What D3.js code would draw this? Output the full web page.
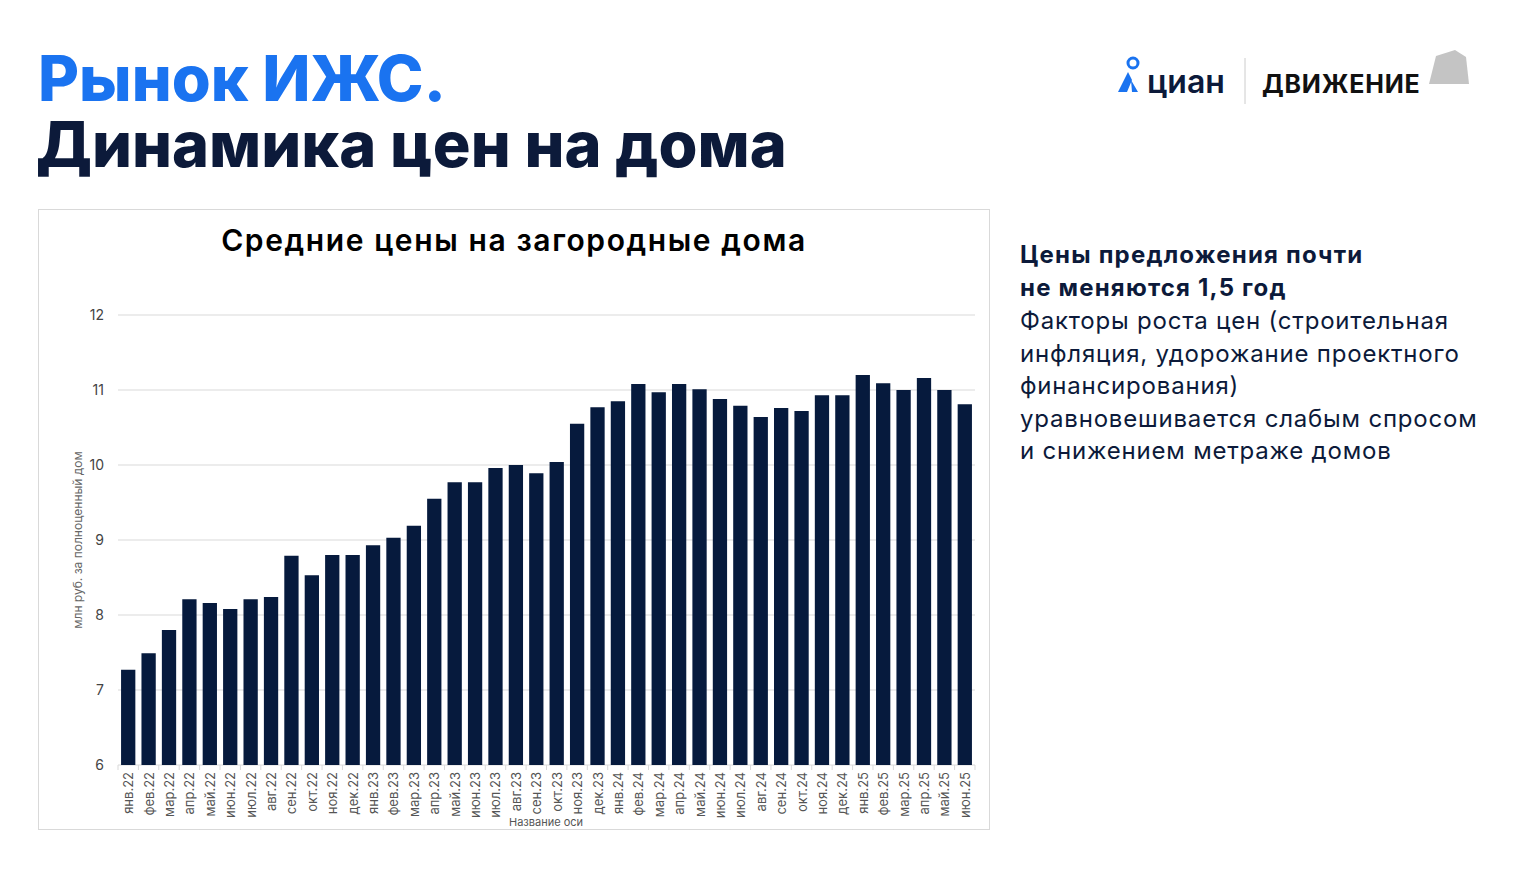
<!DOCTYPE html>
<html><head><meta charset="utf-8">
<script src="https://cdn.jsdelivr.net/npm/d3@7"></script>
<style>body{margin:0;background:#fff;font-family:Inter,"Noto Sans",sans-serif}</style>
</head><body><svg id="c" width="1520" height="890"></svg>
<script>
const months = ["янв.22","фев.22","мар.22","апр.22","май.22","июн.22","июл.22","авг.22","сен.22","окт.22","ноя.22","дек.22",
"янв.23","фев.23","мар.23","апр.23","май.23","июн.23","июл.23","авг.23","сен.23","окт.23","ноя.23","дек.23",
"янв.24","фев.24","мар.24","апр.24","май.24","июн.24","июл.24","авг.24","сен.24","окт.24","ноя.24","дек.24",
"янв.25","фев.25","мар.25","апр.25","май.25","июн.25"];
const prices = [7.27,7.49,7.8,8.21,8.16,8.08,8.21,8.24,8.79,8.53,8.8,8.8,
8.93,9.03,9.19,9.55,9.77,9.77,9.96,10.0,9.89,10.04,10.55,10.77,
10.85,11.08,10.97,11.08,11.01,10.88,10.79,10.64,10.76,10.72,10.93,10.93,
11.2,11.09,11.0,11.16,11.0,10.81];
const yTicks = [6,7,8,9,10,11,12];

const svg = d3.select("#c");
svg.append("text").attr("x",38).attr("y",101).attr("fill","#1a73f0").attr("font-size",63).attr("font-weight",800).text("Рынок ИЖС.");
svg.append("text").attr("x",36).attr("y",167).attr("fill","#0c1a3a").attr("font-size",63).attr("font-weight",800).text("Динамика цен на дома");

// logo
const lg = svg.append("g");
lg.append("path").attr("d","M1118,92 L1128,72 L1132,80 L1127,92 Z M1131,80 L1138,92 L1132,92 Z").attr("fill","#1a73f0");
lg.append("circle").attr("cx",1133).attr("cy",63).attr("r",5).attr("fill","none").attr("stroke","#1a73f0").attr("stroke-width",3);
lg.append("text").attr("x",1147).attr("y",93).attr("fill","#0c1a3a").attr("font-size",32).attr("font-weight",600).text("циан");
lg.append("line").attr("x1",1245).attr("x2",1245).attr("y1",58).attr("y2",104).attr("stroke","#ccc");
lg.append("text").attr("x",1262).attr("y",93).attr("fill","#111").attr("font-size",25).attr("font-weight",700).attr("letter-spacing",0.8).text("ДВИЖЕНИЕ");
lg.append("path").attr("d","M1436,56 L1455,50 L1466,57 L1469,84 L1429,84 Z").attr("fill","#c4c4c4");

// chart frame
svg.append("rect").attr("x",38.5).attr("y",209.5).attr("width",951).attr("height",620).attr("fill","#fff").attr("stroke","#d9d9d9");
svg.append("text").attr("x",514).attr("y",251).attr("text-anchor","middle").attr("font-size",30).attr("font-weight",600).attr("letter-spacing",1.6).attr("fill","#000").text("Средние цены на загородные дома");

const x = d3.scaleBand().domain(months).range([118,975]).paddingInner(0.3).paddingOuter(0.15);
const y = d3.scaleLinear().domain([6,12]).range([765,315]);

const g = svg.append("g");
g.selectAll("line.grid").data(yTicks).join("line").attr("x1",118).attr("x2",975)
 .attr("y1",d=>y(d)).attr("y2",d=>y(d)).attr("stroke","#d9d9d9");
g.selectAll("rect.bar").data(prices).join("rect").attr("x",(d,i)=>x(months[i])).attr("width",x.bandwidth())
 .attr("y",d=>y(d)).attr("height",d=>y(6)-y(d)).attr("fill","#061a3d");
g.selectAll("text.yt").data(yTicks).join("text").attr("x",104).attr("y",d=>y(d)+5).attr("text-anchor","end")
 .attr("font-size",14).attr("fill","#444").text(d=>d);
const off = x(months[0]) - x.step()*x.paddingInner()/2;
g.selectAll("line.xt").data(months.concat([null])).join("line")
 .attr("x1",(d,i)=>off+i*x.step()).attr("x2",(d,i)=>off+i*x.step())
 .attr("y1",765).attr("y2",770).attr("stroke","#d9d9d9");
g.selectAll("text.xl").data(months).join("text")
 .attr("transform",d=>`translate(${x(d)+x.bandwidth()/2+5},772) rotate(-90)`).attr("text-anchor","end")
 .attr("font-size",13).attr("fill","#555").text(d=>d);
svg.append("text").attr("x",546).attr("y",826).attr("text-anchor","middle").attr("font-size",11).attr("fill","#555").text("Название оси");
svg.append("text").attr("transform","translate(82,540) rotate(-90)").attr("text-anchor","middle").attr("font-size",12).attr("fill","#666").text("млн руб. за полноценный дом");

// right text
const t = svg.append("text").attr("font-size",24).attr("fill","#0c1a3a");
[["Цены предложения почти",700,263,1.2],["не меняются 1,5 год",700,296,1.2],["Факторы роста цен (строительная",400,329,0.8],
 ["инфляция, удорожание проектного",400,362,0.8],["финансирования)",400,394,0.8],["уравновешивается слабым спросом",400,427,0.8],["и снижением метраже домов",400,459,0.8]]
 .forEach(([s,w,yy,ls])=>t.append("tspan").attr("x",1020).attr("y",yy).attr("font-weight",w).attr("letter-spacing",ls).text(s));
</script></body></html>
